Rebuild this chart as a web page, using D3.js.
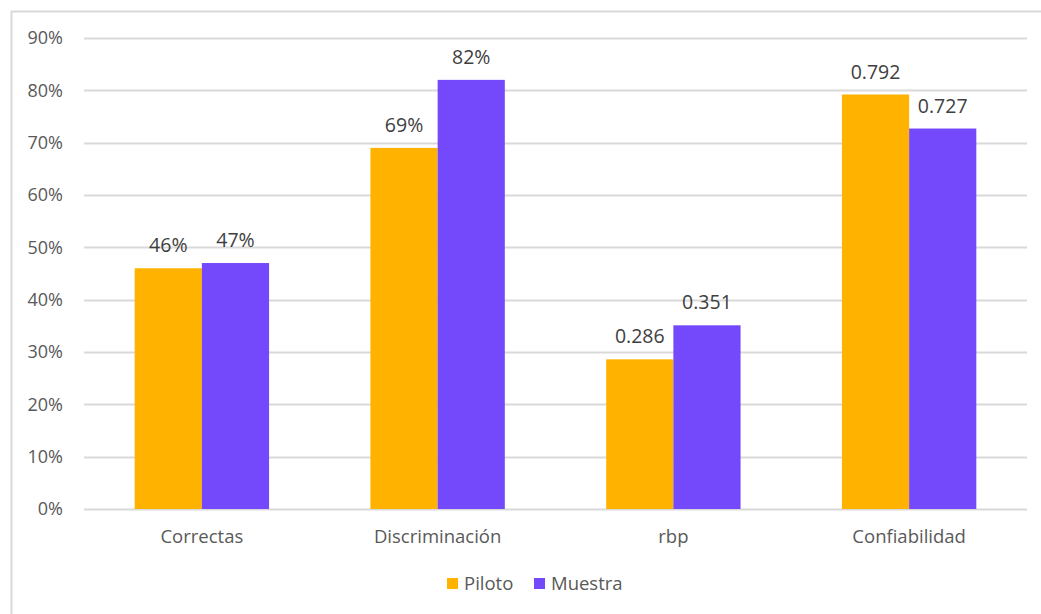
<!DOCTYPE html>
<html>
<head>
<meta charset="utf-8">
<script src="https://cdn.jsdelivr.net/npm/d3@7"></script>
<style>
  body { margin: 0; background: #fff; }
  svg { display: block; font-family: "Open Sans", "Noto Sans", sans-serif; }
</style>
</head>
<body>
<svg width="1041" height="614"></svg>
<script>
const categories = ["Correctas", "Discriminación", "rbp", "Confiabilidad"];
const seriesNames = ["Piloto", "Muestra"];
const piloto = [0.46, 0.69, 0.286, 0.792];
const muestra = [0.47, 0.82, 0.351, 0.727];
const labelFormat = ["pct", "pct", "dec", "dec"];
const yTicks = [0, 0.1, 0.2, 0.3, 0.4, 0.5, 0.6, 0.7, 0.8, 0.9];
const colors = ["#FFB300", "#7349FB"];

const svg = d3.select("svg");

// outer frame (only top + left visible in the reference)
svg.append("path")
  .attr("d", "M11.5,614 V11.5 H1041")
  .attr("fill", "none")
  .attr("stroke", "#d9d9d9")
  .attr("stroke-width", 2);

const x0 = d3.scaleBand().domain(categories).range([84, 1027]).paddingInner(0).paddingOuter(0);
const y = d3.scaleLinear().domain([0, 0.9]).range([509, 38]);
const barW = x0.bandwidth() * 0.285;

// gridlines
svg.append("g")
  .selectAll("line")
  .data(yTicks)
  .join("line")
  .attr("x1", 84)
  .attr("x2", 1027)
  .attr("y1", d => Math.round(y(d)) + 0.5)
  .attr("y2", d => Math.round(y(d)) + 0.5)
  .attr("stroke", "#d9d9d9")
  .attr("stroke-width", 2);

// y tick labels
svg.append("g")
  .selectAll("text")
  .data(yTicks)
  .join("text")
  .attr("x", 63)
  .attr("y", d => y(d))
  .attr("dy", "0.35em")
  .attr("text-anchor", "end")
  .attr("fill", "#595959")
  .attr("font-size", 18)
  .text(d => d3.format(".0%")(d));

const rows = categories.map((c, i) => ({ cat: c, vals: [piloto[i], muestra[i]], fmt: labelFormat[i] }));

const groups = svg.append("g")
  .selectAll("g")
  .data(rows)
  .join("g")
  .attr("transform", d => `translate(${x0(d.cat) + x0.bandwidth() / 2},0)`);

groups.selectAll("rect")
  .data(d => d.vals.map((v, j) => ({ v, j, fmt: d.fmt })))
  .join("rect")
  .attr("x", d => d.j === 0 ? -barW : 0)
  .attr("width", barW)
  .attr("y", d => y(d.v))
  .attr("height", d => y(0) - y(d.v))
  .attr("fill", d => colors[d.j]);

groups.selectAll("text.val")
  .data(d => d.vals.map((v, j) => ({ v, j, fmt: d.fmt })))
  .join("text")
  .attr("class", "val")
  .attr("x", d => d.j === 0 ? -barW / 2 : barW / 2)
  .attr("y", d => y(d.v) - 16)
  .attr("text-anchor", "middle")
  .attr("fill", "#404040")
  .attr("font-size", 19.5)
  .text(d => d.fmt === "pct" ? d3.format(".0%")(d.v) : d3.format(".3f")(d.v));

// category labels
svg.append("g")
  .selectAll("text")
  .data(categories)
  .join("text")
  .attr("x", d => x0(d) + x0.bandwidth() / 2)
  .attr("y", 543)
  .attr("text-anchor", "middle")
  .attr("fill", "#595959")
  .attr("font-size", 18.5)
  .text(d => d);

// legend
const legendX = [447, 534];
const legend = svg.append("g")
  .selectAll("g")
  .data(seriesNames)
  .join("g")
  .attr("transform", (d, i) => `translate(${legendX[i]},584)`);
legend.append("rect")
  .attr("x", 0).attr("y", -6)
  .attr("width", 11).attr("height", 11)
  .attr("fill", (d, i) => colors[i]);
legend.append("text")
  .attr("x", 17)
  .attr("dy", "0.35em")
  .attr("fill", "#595959")
  .attr("font-size", 18.5)
  .text(d => d);
</script>
</body>
</html>
